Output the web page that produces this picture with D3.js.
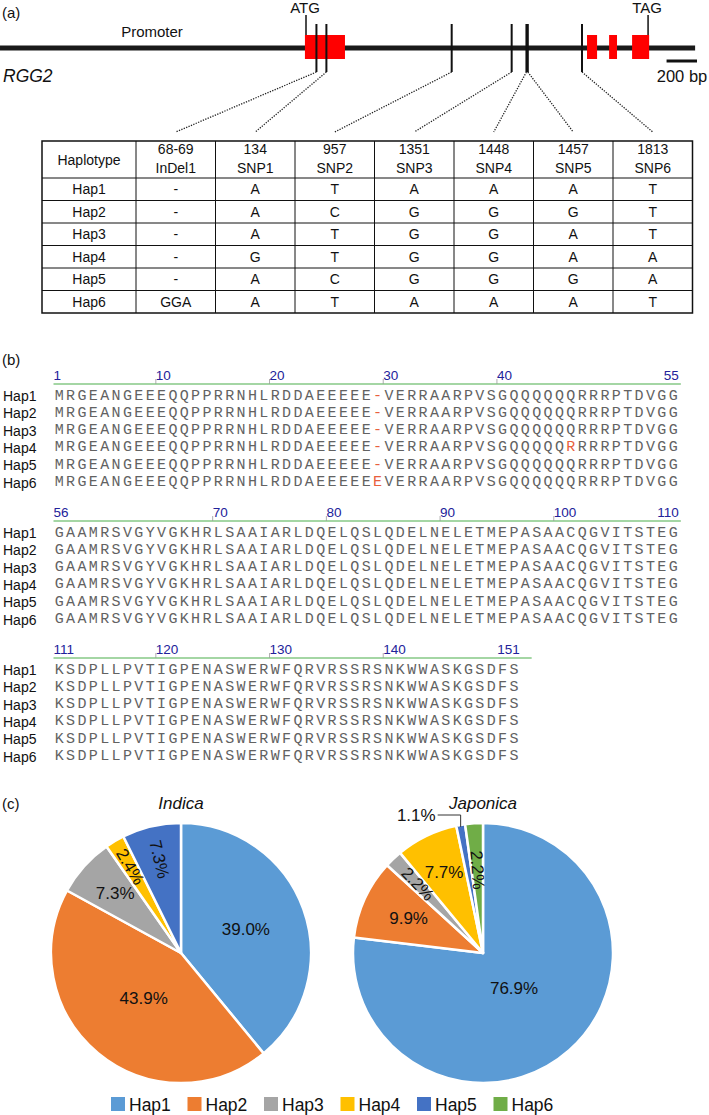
<!DOCTYPE html>
<html>
<head>
<meta charset="utf-8">
<script src="https://cdn.jsdelivr.net/npm/d3@7/dist/d3.min.js"></script>
<style>
  html,body{margin:0;padding:0;background:#fff;}
  svg{display:block;}
  text{font-family:Arial,"Liberation Sans",Helvetica,sans-serif;}
</style>
</head>
<body>
<svg id="fig" width="709" height="1115"></svg>
<script>
// ================= DATA =================
// (a) gene model, bp relative to ATG
const exonsBp = [[-7, 256], [1846, 1912], [1991, 2043], [2142, 2254]];
const geneSpanBp = [-2010, 2556];
const atgBp = 0;
const tagBp = 2247;
const scaleBarBp = 200;
const variantBp = [68.5, 134, 957, 1351, 1448, 1457, 1813];
const variantPosLabels = ["68-69", "134", "957", "1351", "1448", "1457", "1813"];
const variantNames = ["InDel1", "SNP1", "SNP2", "SNP3", "SNP4", "SNP5", "SNP6"];
const hapNames = ["Hap1", "Hap2", "Hap3", "Hap4", "Hap5", "Hap6"];
const alleles = [
  ["-", "A", "T", "A", "A", "A", "T"],
  ["-", "A", "C", "G", "G", "G", "T"],
  ["-", "A", "T", "G", "G", "A", "T"],
  ["-", "G", "T", "G", "G", "A", "A"],
  ["-", "A", "C", "G", "G", "G", "A"],
  ["GGA", "A", "T", "A", "A", "A", "T"]
];

// (b) protein alignment
const seqBlock1 = [
  "MRGEANGEEEQQPPRRNHLRDDAEEEEE-VERRAARPVSGQQQQQQRRRPTDVGG",
  "MRGEANGEEEQQPPRRNHLRDDAEEEEE-VERRAARPVSGQQQQQQRRRPTDVGG",
  "MRGEANGEEEQQPPRRNHLRDDAEEEEE-VERRAARPVSGQQQQQQRRRPTDVGG",
  "MRGEANGEEEQQPPRRNHLRDDAEEEEE-VERRAARPVSGQQQQQRRRRPTDVGG",
  "MRGEANGEEEQQPPRRNHLRDDAEEEEE-VERRAARPVSGQQQQQQRRRPTDVGG",
  "MRGEANGEEEQQPPRRNHLRDDAEEEEEEVERRAARPVSGQQQQQQRRRPTDVGG"
];
const seqBlock2 = [
  "GAAMRSVGYVGKHRLSAAIARLDQELQSLQDELNELETMEPASAACQGVITSTEG",
  "GAAMRSVGYVGKHRLSAAIARLDQELQSLQDELNELETMEPASAACQGVITSTEG",
  "GAAMRSVGYVGKHRLSAAIARLDQELQSLQDELNELETMEPASAACQGVITSTEG",
  "GAAMRSVGYVGKHRLSAAIARLDQELQSLQDELNELETMEPASAACQGVITSTEG",
  "GAAMRSVGYVGKHRLSAAIARLDQELQSLQDELNELETMEPASAACQGVITSTEG",
  "GAAMRSVGYVGKHRLSAAIARLDQELQSLQDELNELETMEPASAACQGVITSTEG"
];
const seqBlock3 = [
  "KSDPLLPVTIGPENASWERWFQRVRSSRSNKWWASKGSDFS",
  "KSDPLLPVTIGPENASWERWFQRVRSSRSNKWWASKGSDFS",
  "KSDPLLPVTIGPENASWERWFQRVRSSRSNKWWASKGSDFS",
  "KSDPLLPVTIGPENASWERWFQRVRSSRSNKWWASKGSDFS",
  "KSDPLLPVTIGPENASWERWFQRVRSSRSNKWWASKGSDFS",
  "KSDPLLPVTIGPENASWERWFQRVRSSRSNKWWASKGSDFS"
];
const blockStarts = [1, 56, 111];
const rulerMarks = [[1, 10, 20, 30, 40, 55], [56, 70, 80, 90, 100, 110], [111, 120, 130, 140, 151]];
const highlights = [
  {hap: 0, pos: 29}, {hap: 1, pos: 29}, {hap: 2, pos: 29},
  {hap: 3, pos: 29}, {hap: 4, pos: 29}, {hap: 5, pos: 29}, {hap: 3, pos: 46}
];

// (c) haplotype frequencies (%)
const indicaPct = [39.0, 43.9, 7.3, 2.4, 7.3, 0];
const japonicaPct = [76.9, 9.9, 2.2, 7.7, 1.1, 2.2];
const hapColors = ["#5B9BD5", "#ED7D31", "#A5A5A5", "#FFC000", "#4472C4", "#70AD47"];

// ================= LAYOUT =================
const svg = d3.select("#fig");
const ink = "#111";

function label(txt, x, y, size, opts = {}) {
  return svg.append("text").attr("x", x).attr("y", y)
    .attr("font-size", size).attr("fill", opts.fill || ink)
    .attr("text-anchor", opts.anchor || "start")
    .attr("dominant-baseline", "central")
    .attr("font-style", opts.italic ? "italic" : "normal")
    .text(txt);
}

// ---------- (a) ----------
label("(a)", 2, 12, 15);
const xBp = d3.scaleLinear().domain([0, 1813]).range([306, 582]);
const lineY = 48;

const gA = svg.append("g");
gA.append("line").attr("x1", xBp(geneSpanBp[0])).attr("x2", xBp(geneSpanBp[1]))
  .attr("y1", lineY).attr("y2", lineY).attr("stroke", "#1a1a1a").attr("stroke-width", 5);
gA.selectAll("rect.exon").data(exonsBp).join("rect").attr("class", "exon")
  .attr("x", d => xBp(d[0])).attr("width", d => xBp(d[1]) - xBp(d[0]))
  .attr("y", 35).attr("height", 24).attr("fill", "#ff0000");

// ATG / TAG ticks
[[atgBp, "ATG"], [tagBp, "TAG"]].forEach(([bp, t]) => {
  gA.append("line").attr("x1", xBp(bp)).attr("x2", xBp(bp)).attr("y1", 15).attr("y2", 35)
    .attr("stroke", ink).attr("stroke-width", 1.5);
  label(t, xBp(bp) - 1, 7, 15, {anchor: "middle"});
});
label("Promoter", 152, 31, 15, {anchor: "middle"});
label("RGG2", 3, 76, 17.5, {italic: true});

// variant lines
gA.selectAll("line.var").data(variantBp).join("line").attr("class", "var")
  .attr("x1", d => xBp(d)).attr("x2", d => xBp(d)).attr("y1", 24).attr("y2", 72)
  .attr("stroke", ink).attr("stroke-width", 2);

// scale bar
const sbRight = 697;
gA.append("line").attr("x1", sbRight - (xBp(scaleBarBp) - xBp(0))).attr("x2", sbRight)
  .attr("y1", 61).attr("y2", 61).attr("stroke", ink).attr("stroke-width", 3);
label("200 bp", 682, 76, 16.5, {anchor: "middle"});

// table
const tblX0 = 42, tblX1 = 692.5, firstColR = 136;
const tblTop = 141, headBot = 178, tblBot = 313;
const colScale = d3.scaleBand().domain(d3.range(variantNames.length)).range([firstColR, tblX1]);
const rowScale = d3.scaleBand().domain(hapNames).range([headBot, tblBot]);
const colCenter = i => colScale(i) + colScale.bandwidth() / 2;

// dotted connectors
gA.selectAll("line.dot").data(variantBp).join("line").attr("class", "dot")
  .attr("x1", d => xBp(d)).attr("y1", 72)
  .attr("x2", (d, i) => colCenter(i)).attr("y2", 132)
  .attr("stroke", "#222").attr("stroke-width", 1.3).attr("stroke-dasharray", "1.3,1.3");

const gT = svg.append("g");
gT.append("rect").attr("x", tblX0).attr("y", tblTop).attr("width", tblX1 - tblX0)
  .attr("height", tblBot - tblTop).attr("fill", "none").attr("stroke", ink).attr("stroke-width", 1.5);
[firstColR, ...d3.range(1, variantNames.length).map(i => colScale(i))].forEach(x => {
  gT.append("line").attr("x1", x).attr("x2", x).attr("y1", tblTop).attr("y2", tblBot)
    .attr("stroke", ink).attr("stroke-width", 1);
});
hapNames.forEach(h => {
  gT.append("line").attr("x1", tblX0).attr("x2", tblX1)
    .attr("y1", rowScale(h)).attr("y2", rowScale(h)).attr("stroke", ink).attr("stroke-width", 1);
});
label("Haplotype", (tblX0 + firstColR) / 2, (tblTop + headBot) / 2, 14, {anchor: "middle"});
variantNames.forEach((n, i) => {
  label(variantPosLabels[i], colCenter(i), 149, 14, {anchor: "middle"});
  label(n, colCenter(i), 168, 14, {anchor: "middle"});
});
hapNames.forEach((h, r) => {
  const cy = rowScale(h) + rowScale.bandwidth() / 2;
  label(h, (tblX0 + firstColR) / 2, cy, 14, {anchor: "middle"});
  alleles[r].forEach((a, i) => label(a, colCenter(i), cy, 14, {anchor: "middle"}));
});

// ---------- (b) ----------
label("(b)", 2, 359, 15);
const charW = 11.37, seqX0 = 53.5;
const xRes = d3.scaleLinear().domain([0, 55]).range([seqX0, seqX0 + 55 * charW]);
const blocks = [seqBlock1, seqBlock2, seqBlock3];
const blockY = d3.scaleLinear().domain([0, 1]).range([375, 512]);
const rowStep = 17.3;

blocks.forEach((rows, b) => {
  const y0 = blockY(b);
  const start = blockStarts[b];
  const len = rows[0].length;
  const g = svg.append("g");
  const greenY = y0 + 9;
  g.append("line").attr("x1", xRes(0)).attr("x2", xRes(len) + (b === 2 ? 12 : 2))
    .attr("y1", greenY).attr("y2", greenY).attr("stroke", "#86c986").attr("stroke-width", 1.3);
  const marks = rulerMarks[b];
  marks.forEach((m, k) => {
    const idx = m - start;
    if (k === 0) {
      label(m, xRes(idx), y0, 13.5, {fill: "#22229a"});
    } else if (k === marks.length - 1) {
      label(m, xRes(idx + 1), y0, 13.5, {fill: "#22229a", anchor: "end"});
    } else {
      g.append("line").attr("x1", xRes(idx)).attr("x2", xRes(idx))
        .attr("y1", greenY).attr("y2", greenY - 5).attr("stroke", "#9a9a9a").attr("stroke-width", 0.8);
      label(m, xRes(idx), y0, 13.5, {fill: "#22229a"});
    }
  });
  rows.forEach((s, r) => {
    const cy = y0 + 21 + r * rowStep;
    label(hapNames[r], 3, cy, 14);
    g.selectAll(null).data(s.split("")).join("text")
      .attr("x", (c, i) => xRes(i + 0.5)).attr("y", cy)
      .attr("text-anchor", "middle").attr("dominant-baseline", "central")
      .attr("font-size", 15)
      .style("font-family", "'Courier New','Liberation Mono',monospace")
      .attr("fill", (c, i) => {
        const pos = start + i;
        return highlights.some(h => h.hap === r && h.pos === pos) ? "#e8603c" : "#626262";
      })
      .text(c => c);
  });
});

// ---------- (c) ----------
label("(c)", 2, 803, 15);
const R = 130;
const pies = [
  {title: "Indica", cx: 181, data: indicaPct,
   layout: [{r: 0.53}, {r: 0.45}, {r: 0.68}, {r: 0.77, rot: true}, {r: 0.74, rot: true}, null]},
  {title: "Japonica", cx: 483, data: japonicaPct,
   layout: [{r: 0.36}, {r: 0.63}, {r: 0.73, rot: true}, {r: 0.69}, {leader: true}, {r: 0.64, rot: true}]}
];
const pieCY = 953;
const pieGen = d3.pie().sort(null).value(d => d);
const arcGen = d3.arc().innerRadius(0).outerRadius(R);

pies.forEach(p => {
  label(p.title, p.cx, 803, 17, {anchor: "middle", italic: true});
  const g = svg.append("g").attr("transform", `translate(${p.cx},${pieCY})`);
  const arcs = pieGen(p.data).map((a, i) => Object.assign(a, {idx: i}));
  g.selectAll("path").data(arcs.filter(a => a.value > 0)).join("path")
    .attr("d", arcGen).attr("fill", a => hapColors[a.idx])
    .attr("stroke", "#fff").attr("stroke-width", 2.5).attr("stroke-linejoin", "round");
  arcs.forEach(a => {
    const lay = p.layout[a.idx];
    if (!lay || a.value <= 0) return;
    const mid = (a.startAngle + a.endAngle) / 2;
    const txt = a.value.toFixed(1) + "%";
    if (lay.leader) {
      const ex = Math.sin(mid) * R, ey = -Math.cos(mid) * R;
      const yL = -R - 8;
      g.append("polyline")
        .attr("points", [[ex, ey + 2], [ex, yL], [ex - 23, yL]].map(q => q.join(",")).join(" "))
        .attr("fill", "none").attr("stroke", "#333").attr("stroke-width", 1);
      g.append("text").attr("x", ex - 25).attr("y", yL).attr("text-anchor", "end")
        .attr("dominant-baseline", "central").attr("font-size", 17).attr("fill", ink).text(txt);
      return;
    }
    const lx = Math.sin(mid) * R * lay.r, ly = -Math.cos(mid) * R * lay.r;
    const t = g.append("text").attr("x", lx).attr("y", ly).attr("text-anchor", "middle")
      .attr("dominant-baseline", "central").attr("font-size", 17).attr("fill", ink).text(txt);
    if (lay.rot) {
      const deg = mid * 180 / Math.PI - 270;
      t.attr("transform", `rotate(${deg},${lx},${ly})`);
    }
  });
});

// legend
const legX = d3.scaleLinear().domain([0, 1]).range([111, 187.5]);
const gL = svg.append("g");
hapNames.forEach((h, i) => {
  gL.append("rect").attr("x", legX(i)).attr("y", 1097).attr("width", 14).attr("height", 14)
    .attr("fill", hapColors[i]);
  label(h, legX(i) + 18, 1104.5, 17.5);
});
</script>
</body>
</html>
